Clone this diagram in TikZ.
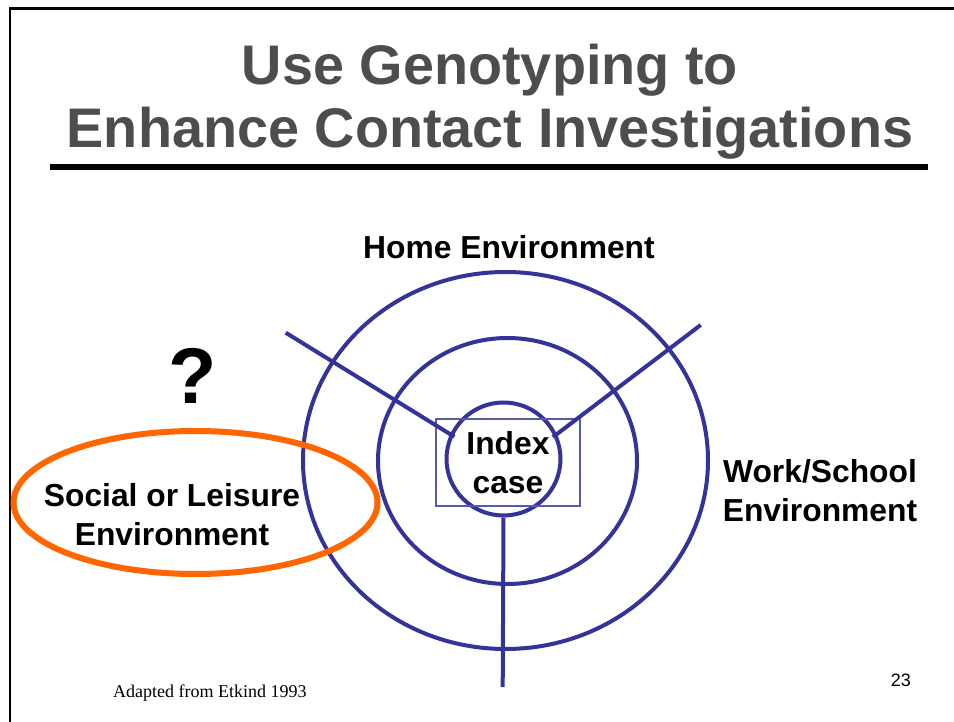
\documentclass[tikz,border=0pt]{standalone}
\usepackage{fontspec}
\setmainfont{Liberation Sans}
\newfontfamily\notefont{Liberation Serif}
\usepackage{xcolor}
\usepackage{tikz}
\usetikzlibrary{shapes,positioning}

\definecolor{ringblue}{RGB}{51,51,153}
\definecolor{boxblue}{RGB}{90,90,170}
\definecolor{leisureorange}{RGB}{255,102,0}
\definecolor{titlegray}{RGB}{77,77,77}

\begin{document}
\begin{tikzpicture}[
    x=1pt, y=-1pt,
    ring/.style = {draw=ringblue, line width=4pt, ellipse, inner sep=0pt},
    spoke/.style = {draw=ringblue, line width=4pt},
    lbl/.style = {font=\bfseries\fontsize{31.8}{38.8}\selectfont, inner sep=0pt}
  ]
  \useasboundingbox (0,0) rectangle (954,722);
  % slide frame
  \draw[line width=2.7pt] (10,722) -- (10,8.7) -- (954,8.7);

  % title
  \node[font=\bfseries\fontsize{55.8}{63}\selectfont, text=titlegray, align=center,
        anchor=north, inner sep=0pt] (title) at (490,44)
        {Use Genotyping to\\Enhance Contact Investigations};
  \draw[line width=5.5pt] (50,167) -- (928,167);

  % environments as rings
  \node[ring, minimum width=405pt, minimum height=377pt] (outer) at (505.5,460.5) {};
  \node[ring, minimum width=259pt, minimum height=246pt] (middle) at (507.5,461) {};
  \node[ring, minimum width=114pt, minimum height=113pt] (inner) at (503.5,459) {};
  \node[lbl, align=center, draw=boxblue, line width=1.2pt,
        minimum width=144pt, minimum height=87pt] (index) at (508,462.5) {Index\\case};

  % spokes
  \coordinate (homeleft) at (285.7,332.7);
  \coordinate (homeright) at (700.7,325);
  \coordinate (base) at (502.7,687);
  \draw[spoke, shorten >=-5pt] (homeleft) -- (inner.155);
  \draw[spoke, shorten >=-5pt] (homeright) -- (inner.25);
  \draw[spoke] (inner.south) -- (base);

  % labels
  \node[lbl, anchor=base] (home) at (509,259) {Home Environment};
  \node[lbl, align=center] (work) at (820,490.7) {Work/School\\Environment};

  % the unknown environment
  \node[draw=leisureorange, line width=6pt, ellipse,
        minimum width=364pt, minimum height=143pt] (leisure) at (195.5,502.5) {};
  \node[lbl, align=center] (social) at (172,515) {Social or Leisure\\Environment};
  \node[font=\bfseries\fontsize{79}{79}\selectfont, anchor=base, inner sep=0pt] (unknown) at (193,403) {?};

  % footer
  \node[font=\notefont\fontsize{18}{18}\selectfont, anchor=base west, inner sep=0pt] (source) at (113,697) {Adapted from Etkind 1993};
  \node[font=\fontsize{18}{18}\selectfont, anchor=base east, inner sep=0pt] (page) at (911,686) {23};
\end{tikzpicture}
\end{document}
